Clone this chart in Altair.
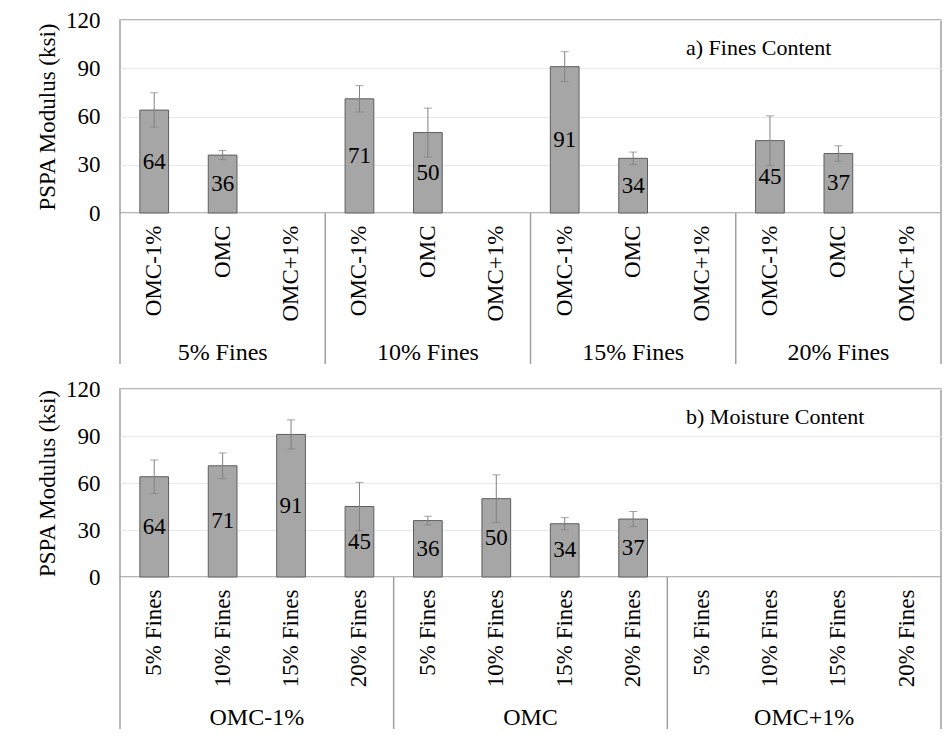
import altair as alt
import pandas as pd

# ---- data ----
fines = ["5% Fines", "10% Fines", "15% Fines", "20% Fines"]
moisture = ["OMC-1%", "OMC", "OMC+1%"]
modulus_omc_minus1 = [64, 71, 91, 45]
modulus_omc = [36, 50, 34, 37]
err_omc_minus1 = [10.7, 8.2, 9.3, 15.4]
err_omc = [2.8, 15.2, 3.9, 4.8]
y_ticks = [0, 30, 60, 90, 120]

FONT = "Liberation Serif, Times New Roman, serif"
BAR_FILL = "#a6a6a6"
BAR_STROKE = "#5e5e5e"
ERR_COLOR = "#808080"
LINE_COLOR = "#a0a0a0"

rows = []
for f, v, e in zip(fines, modulus_omc_minus1, err_omc_minus1):
    rows.append((f, "OMC-1%", v, e))
for f, v, e in zip(fines, modulus_omc, err_omc):
    rows.append((f, "OMC", v, e))
df = pd.DataFrame(rows, columns=["fines", "moist", "value", "err"])
df["lo"] = df["value"] - df["err"]
df["hi"] = df["value"] + df["err"]
df["mid"] = df["value"] / 2

W = 821


def panel(outer, inner, outer_field, inner_field, mid_idx, mid_band, note, H, sep_len, grp_off):
    d = df.copy()
    d["key"] = d[outer_field] + "|" + d[inner_field]
    domain = [f"{o}|{i}" for o in outer for i in inner]
    xs = alt.Scale(domain=domain, paddingInner=0, paddingOuter=0)
    xaxis = alt.Axis(
        title=None, labelAngle=-90, labelExpr="split(datum.label, '|')[1]",
        labelFont=FONT, labelFontSize=23, labelColor="black", ticks=False,
        domain=False, labelPadding=12, grid=False,
    )
    yaxis = alt.Axis(
        values=y_ticks, title="PSPA Modulus (ksi)", grid=True, gridColor="#e8e8e8",
        domain=False, ticks=False, labelFont=FONT, labelFontSize=23,
        labelColor="black", labelPadding=20, titleFont=FONT, titleFontSize=23,
        titleFontWeight="normal", titleColor="black", titlePadding=6,
    )
    ysc = alt.Scale(domain=[0, 120], nice=False)

    def X(field="key:N", **kw):
        return alt.X(field, scale=xs, axis=xaxis, **kw)

    def Y(field):
        return alt.Y(field, scale=ysc, axis=yaxis)

    bars = alt.Chart(d).mark_bar(
        width=alt.RelativeBandSize(0.42), color=BAR_FILL, stroke=BAR_STROKE, strokeWidth=1
    ).encode(x=X(), y=Y("value:Q"))
    err_rule = alt.Chart(d).mark_rule(color=ERR_COLOR, strokeWidth=1).encode(
        x=X(), y=Y("lo:Q"), y2="hi:Q",
    )
    err_caps = alt.Chart(d).transform_fold(["lo", "hi"], as_=["end", "ev"]).mark_tick(
        color=ERR_COLOR, size=8, thickness=1
    ).encode(x=X(), y=Y("ev:Q"))
    labels = alt.Chart(d).mark_text(font=FONT, fontSize=23, color="black").encode(
        x=X(), y=Y("mid:Q"), text=alt.Text("value:Q"),
    )
    sep_df = pd.DataFrame({"key": [f"{o}|{inner[0]}" for o in outer]})
    seps = alt.Chart(sep_df).mark_rule(color=LINE_COLOR, strokeWidth=1.5).encode(
        x=X(bandPosition=0),
        y=alt.value(H),
        y2=alt.value(H + sep_len),
    )
    right_edge = alt.Chart(sep_df.head(1)).mark_rule(color=LINE_COLOR, strokeWidth=1.5).encode(
        x=alt.value(W),
        y=alt.value(H),
        y2=alt.value(H + sep_len),
    )
    grp_df = pd.DataFrame({
        "label": outer,
        "key": [f"{o}|{inner[mid_idx]}" for o in outer],
    })
    groups = alt.Chart(grp_df).mark_text(
        font=FONT, fontSize=24, color="black", baseline="middle"
    ).encode(
        x=X(bandPosition=mid_band),
        y=alt.value(H + grp_off),
        text="label:N",
    )
    note_chart = alt.Chart(pd.DataFrame({"t": [note]})).mark_text(
        font=FONT, fontSize=22, color="black", align="left", baseline="middle"
    ).encode(
        x=alt.value(566),
        y=alt.value(28),
        text="t:N",
    )
    return alt.layer(
        bars, err_rule, err_caps, labels, seps, right_edge, groups, note_chart
    ).properties(width=W, height=H)


pa = panel(fines, moisture, "fines", "moist", 1, 0.5, "a) Fines Content", 193, 151, 140)
pb = panel(moisture, fines, "moist", "fines", 2, 0.0, "b) Moisture Content", 188, 152, 141)

chart = alt.vconcat(pa, pb, spacing=11).properties(
    padding={"left": 27, "top": 0, "right": 0, "bottom": 0},
    background="white",
).configure_view(stroke=LINE_COLOR, strokeWidth=1.5).configure_text(font=FONT)

chart.save("out.html", embed_options={"renderer": "svg", "actions": False})
